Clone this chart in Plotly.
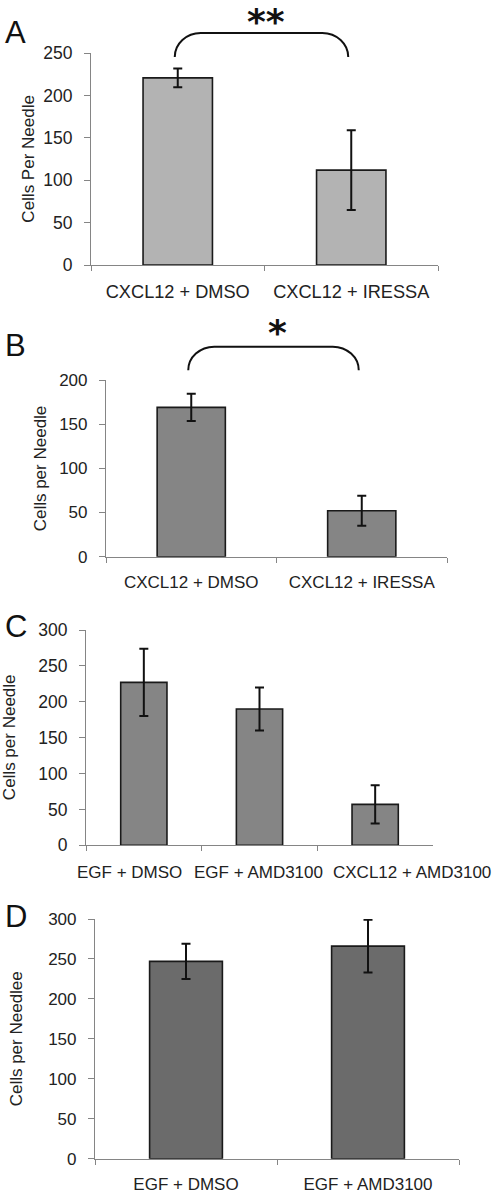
import plotly.graph_objects as go

# ---------------- data ----------------
a_categories = ["CXCL12 + DMSO", "CXCL12 + IRESSA"]
a_values = [221, 112]
a_errors = [11, 47]

b_categories = ["CXCL12 + DMSO", "CXCL12 + IRESSA"]
b_values = [169, 52]
b_errors = [15.5, 17]

c_categories = ["EGF + DMSO", "EGF + AMD3100", "CXCL12 + AMD3100"]
c_values = [227, 190, 57]
c_errors = [47, 30, 26.5]

d_categories = ["EGF + DMSO", "EGF + AMD3100"]
d_values = [247, 266]
d_errors = [22, 33]

panel_letters = ["A", "B", "C", "D"]
y_titles = ["Cells Per Needle", "Cells per Needle", "Cells per Needle", "Cells per Needlee"]
y_max = [250, 200, 300, 300]
a_sig = "**"
b_sig = "*"

# ---------------- layout constants ----------------
W, H = 496, 1197
FONT = "Liberation Sans, Arial, sans-serif"
STAR_FONT = "DejaVu Sans"
AXIS_COLOR = "#858585"

def px_x(p):
    return p / W

def px_y(p):
    return 1 - p / H

# panel boxes in pixels: (left, right, top, bottom)
boxes = [
    (91, 438, 53.3, 265),
    (106, 447, 380, 556.7),
    (86, 433, 630, 845.3),
    (95, 459, 919, 1158.7),
]
fills = ["#b3b3b3", "#858585", "#858585", "#6b6b6b"]
letter_y = [32, 345.5, 626, 916.5]
title_x = [28.5, 40, 9.5, 16.5]
xlab_size = [18.2, 17, 17, 17]
ytick_size = [17.5, 17, 17.5, 17]
# panel C labels are staggered sideways (as in the original) so they do not collide
c_label_shift = [-14, -1.5, 37]
c_label_y = 872.5

panels = [
    (a_categories, a_values, a_errors),
    (b_categories, b_values, b_errors),
    (c_categories, c_values, c_errors),
    (d_categories, d_values, d_errors),
]

fig = go.Figure()
annotations = []
shapes = []

for i, (cats, vals, errs) in enumerate(panels):
    n = i + 1
    xa = "x" if n == 1 else f"x{n}"
    ya = "y" if n == 1 else f"y{n}"
    l, r, t, b = boxes[i]
    fig.add_trace(go.Bar(
        x=cats, y=vals, xaxis=xa, yaxis=ya,
        width=0.4,
        marker=dict(color=fills[i], line=dict(color="#1a1a1a", width=1.6)),
        error_y=dict(type="data", array=errs, visible=True,
                     color="#111111", thickness=2, width=4.5),
        hoverinfo="skip",
    ))
    xkey = "xaxis" if n == 1 else f"xaxis{n}"
    ykey = "yaxis" if n == 1 else f"yaxis{n}"
    fig.layout[xkey] = dict(
        domain=[px_x(l), px_x(r)], anchor=ya, type="category",
        range=[-0.5, len(cats) - 0.5], automargin=False, tickangle=0,
        showline=True, linecolor=AXIS_COLOR, linewidth=1.2,
        ticks="outside", tickson="boundaries", ticklen=5,
        tickcolor=AXIS_COLOR, tickwidth=1.2,
        showticklabels=(i != 2),
        tickfont=dict(family=FONT, size=xlab_size[i], color="#222222"),
        ticklabelstandoff=10,
        showgrid=False, zeroline=False, fixedrange=True,
    )
    fig.layout[ykey] = dict(
        domain=[px_y(b), px_y(t)], anchor=xa, automargin=False,
        range=[0, y_max[i]], dtick=50,
        showline=True, linecolor=AXIS_COLOR, linewidth=1.2,
        ticks="outside", ticklen=6, tickcolor=AXIS_COLOR, tickwidth=1.2,
        tickfont=dict(family=FONT, size=ytick_size[i], color="#222222"),
        ticklabelstandoff=8,
        showgrid=False, zeroline=False, fixedrange=True,
    )
    # panel letter
    annotations.append(dict(
        text=panel_letters[i], xref="paper", yref="paper",
        x=px_x(3), y=px_y(letter_y[i]), xanchor="left", yanchor="middle",
        showarrow=False, font=dict(family=FONT, size=31, color="#111111"),
    ))
    # y title
    annotations.append(dict(
        text=y_titles[i], xref="paper", yref="paper", textangle=-90,
        x=px_x(title_x[i]), y=px_y((t + b) / 2), xanchor="center", yanchor="middle",
        showarrow=False, font=dict(family=FONT, size=17, color="#222222"),
    ))

# panel C category labels, anchored to the category axis
for cat, shift in zip(c_categories, c_label_shift):
    annotations.append(dict(
        text=cat, xref="x3", yref="paper", x=cat, y=px_y(c_label_y),
        xshift=shift, xanchor="center", yanchor="middle", showarrow=False,
        font=dict(family=FONT, size=xlab_size[2], color="#222222"),
    ))


def brace(panel, i0, i1, v_bottom, v_top, label, v_label):
    l, r, t, b = boxes[panel]
    n = len(panels[panel][0])
    ymx = y_max[panel]

    def cx(idx):
        return px_x(l + (r - l) * (idx + 0.5) / n - 3)

    def vy(v):
        return px_y(b - (b - t) * v / ymx)

    xl, xr = cx(i0), cx(i1)
    yb, yt = vy(v_bottom), vy(v_top)
    rx = px_x(26)
    k = 0.552
    path = (f"M {xl},{yb} C {xl},{yb + k * (yt - yb)} {xl + rx * (1 - k)},{yt} {xl + rx},{yt} "
            f"L {xr - rx},{yt} C {xr - rx * (1 - k)},{yt} {xr},{yb + k * (yt - yb)} {xr},{yb}")
    shapes.append(dict(type="path", xref="paper", yref="paper", path=path,
                       line=dict(color="#111111", width=2)))
    annotations.append(dict(
        text=f"<b>{label}</b>", xref="paper", yref="paper",
        x=(xl + xr) / 2 + px_x(4), y=vy(v_label), xanchor="center", yanchor="middle",
        showarrow=False, font=dict(family=STAR_FONT, size=36, color="#111111"),
    ))


brace(0, 0, 1, 245.6, 274, a_sig, 287)
brace(1, 0, 1, 211, 237.7, b_sig, 254)

fig.update_layout(
    width=W, height=H,
    margin=dict(l=0, r=0, t=0, b=0),
    paper_bgcolor="white", plot_bgcolor="white",
    showlegend=False, bargap=0.6,
    annotations=annotations, shapes=shapes,
)

fig.write_html(
    "out.html",
    config={"displayModeBar": False},
    post_script="document.body.style.margin='0px';document.body.style.overflow='hidden';",
)
